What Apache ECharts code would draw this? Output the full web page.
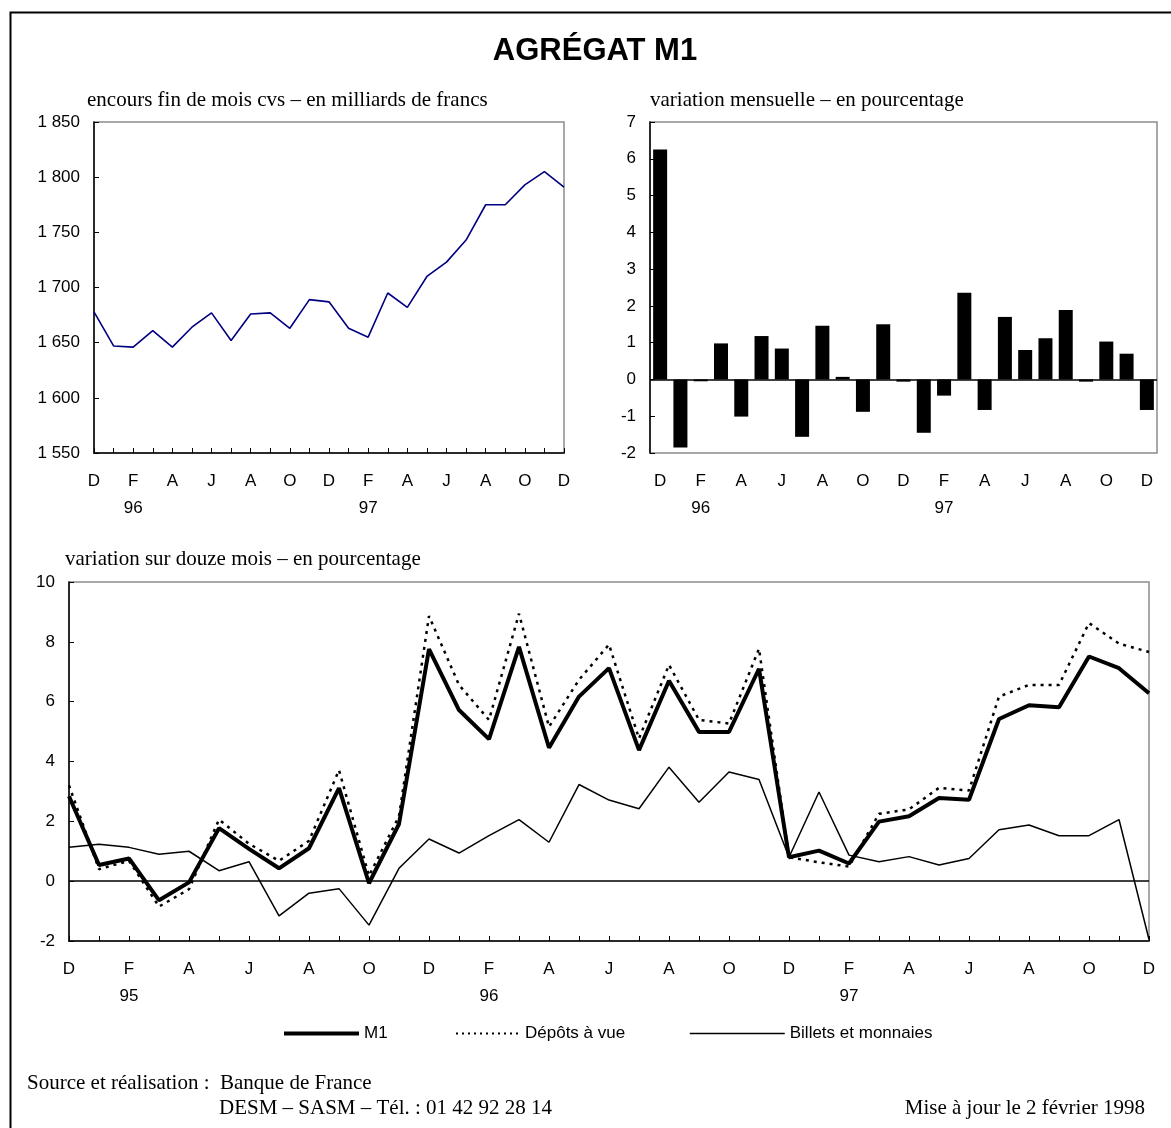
<!DOCTYPE html>
<html><head><meta charset="utf-8">
<script src="https://cdn.jsdelivr.net/npm/echarts/dist/echarts.min.js"></script>
<style>html,body{margin:0;padding:0;background:#fff}#c{width:1171px;height:1128px}</style>
</head><body><div id="c"></div><script>
// ---- data ----
const monthsTop = ['D','J','F','M','A','M','J','J','A','S','O','N','D','J','F','M','A','M','J','J','A','S','O','N','D'];
const yearsTop  = ['95','96','96','96','96','96','96','96','96','96','96','96','96','97','97','97','97','97','97','97','97','97','97','97','97'];
const encours = [1678,1647,1646,1661,1646,1664,1677,1652,1676,1677,1663,1689,1687,1663,1655,1695,1682,1710,1723,1743,1775,1775,1793,1805,1791];
const variationMensuelle = [6.25,-1.85,-0.05,0.98,-1.01,1.18,0.84,-1.56,1.46,0.07,-0.88,1.50,-0.06,-1.45,-0.44,2.36,-0.83,1.70,0.80,1.12,1.89,-0.06,1.03,0.70,-0.83];

const monthsBottom = ['D','J','F','M','A','M','J','J','A','S','O','N','D','J','F','M','A','M','J','J','A','S','O','N','D','J','F','M','A','M','J','J','A','S','O','N','D'];
const yearsBottom  = ['94','95','95','95','95','95','95','95','95','95','95','95','95','96','96','96','96','96','96','96','96','96','96','96','96','97','97','97','97','97','97','97','97','97','97','97','97'];
const m1 = [2.84,0.54,0.76,-0.64,-0.04,1.77,1.08,0.43,1.10,3.11,-0.07,1.91,7.76,5.72,4.75,7.83,4.46,6.17,7.12,4.38,6.70,4.99,4.99,7.10,0.80,1.02,0.59,1.99,2.17,2.78,2.72,5.42,5.88,5.81,7.51,7.12,6.28];
const depots = [3.20,0.40,0.68,-0.85,-0.27,2.06,1.25,0.68,1.35,3.71,0.18,2.17,8.86,6.56,5.39,8.94,5.16,6.73,7.91,4.77,7.23,5.39,5.27,7.77,0.80,0.63,0.49,2.25,2.40,3.12,3.03,6.17,6.56,6.56,8.63,7.94,7.66];
const billets = [1.13,1.23,1.13,0.90,1.00,0.35,0.65,-1.16,-0.40,-0.25,-1.47,0.43,1.41,0.94,1.52,2.06,1.30,3.23,2.71,2.42,3.81,2.64,3.65,3.40,0.80,2.98,0.87,0.65,0.82,0.54,0.76,1.72,1.88,1.52,1.52,2.06,-1.95];

const catTop = monthsTop.map((m,i)=>m+' '+yearsTop[i]);
const catBottom = monthsBottom.map((m,i)=>m+' '+yearsBottom[i]);

// ---- styles ----
const SANS = 'Liberation Sans, Arial, sans-serif';
const SERIF = 'Liberation Serif, Times New Roman, serif';
const FRAME = '#8c8c8c';
const xFmt = v => { const p = v.split(' '); return p[0]==='F' ? p[0]+'\n'+p[1] : p[0]; };
const thousand = v => String(v).replace(/\B(?=(\d{3})+(?!\d))/g,' ');

const xLabel = {interval:1, formatter:xFmt, fontFamily:SANS, fontSize:17, color:'#000', margin:15, lineHeight:27, verticalAlign:'top'};
const yLabel = extra => Object.assign({fontFamily:SANS, fontSize:17, color:'#000', margin:14}, extra||{});
const blackAxis = {show:true, onZero:false, lineStyle:{color:'#000', width:1.5}};
const tickIn = {show:true, inside:true, length:5, lineStyle:{color:'#000', width:1}};
const zeroLine = {silent:true, symbol:'none', label:{show:false}, lineStyle:{color:'#000', width:1.5, type:'solid'}, data:[{yAxis:0}]};

const subStyle = {fontFamily:SERIF, fontSize:21, fontWeight:'normal', color:'#000'};
const legText = {fontFamily:SANS, fontSize:17, color:'#000'};
const legItem = {color:'rgba(0,0,0,0)', borderWidth:0, borderColor:'rgba(0,0,0,0)'};

const option = {
  animation:false,
  backgroundColor:'#fff',
  title:[
    {text:'AGRÉGAT M1', left:595, top:36, textAlign:'center', padding:0, textStyle:{fontFamily:SANS, fontSize:31, fontWeight:'bold', color:'#000'}},
    {text:'encours fin de mois cvs – en milliards de francs', left:87, top:90, padding:0, textStyle:subStyle},
    {text:'variation mensuelle – en pourcentage', left:650, top:90, padding:0, textStyle:subStyle},
    {text:'variation sur douze mois – en pourcentage', left:65, top:549, padding:0, textStyle:subStyle},
    {text:'Source et réalisation :  Banque de France', left:27, top:1073, padding:0, textStyle:subStyle},
    {text:'DESM – SASM – Tél. : 01 42 92 28 14', left:219, top:1098, padding:0, textStyle:subStyle},
    {text:'Mise à jour le 2 février 1998', right:26, top:1098, padding:0, textStyle:subStyle}
  ],
  legend:[
    {data:['M1'], left:282, top:1025, itemWidth:75, itemHeight:14, itemGap:0, padding:0, textStyle:legText, itemStyle:legItem, lineStyle:{width:4, color:'#000', type:'solid'}},
    {data:['Dépôts à vue'], left:455, top:1025, itemWidth:64, itemHeight:14, itemGap:0, padding:0, textStyle:legText, itemStyle:legItem, lineStyle:{width:2, color:'#000', type:[2,4]}},
    {data:['Billets et monnaies'], left:689, top:1025, itemWidth:95, itemHeight:14, itemGap:0, padding:0, textStyle:legText, itemStyle:legItem, lineStyle:{width:1.5, color:'#000', type:'solid'}}
  ],
  grid:[
    {left:94, top:122, width:470, height:331, show:true, borderColor:FRAME, borderWidth:1.5, backgroundColor:'#fff'},
    {left:650, top:122, width:507, height:331, show:true, borderColor:FRAME, borderWidth:1.5, backgroundColor:'#fff'},
    {left:69, top:582, width:1080, height:359, show:true, borderColor:FRAME, borderWidth:1.5, backgroundColor:'#fff'}
  ],
  xAxis:[
    {gridIndex:0, type:'category', data:catTop, boundaryGap:false, axisLine:blackAxis, axisTick:Object.assign({interval:0}, tickIn), axisLabel:xLabel, splitLine:{show:false}},
    {gridIndex:1, type:'category', data:catTop, boundaryGap:true, axisLine:{show:false, onZero:false}, axisTick:{show:false}, axisLabel:xLabel, splitLine:{show:false}},
    {gridIndex:2, type:'category', data:catBottom, boundaryGap:false, axisLine:blackAxis, axisTick:Object.assign({interval:0}, tickIn), axisLabel:xLabel, splitLine:{show:false}}
  ],
  yAxis:[
    {gridIndex:0, type:'value', min:1550, max:1850, interval:50, axisLine:blackAxis, axisTick:tickIn, axisLabel:yLabel({formatter:thousand}), splitLine:{show:false}},
    {gridIndex:1, type:'value', min:-2, max:7, interval:1, axisLine:blackAxis, axisTick:tickIn, axisLabel:yLabel(), splitLine:{show:false}},
    {gridIndex:2, type:'value', min:-2, max:10, interval:2, axisLine:blackAxis, axisTick:tickIn, axisLabel:yLabel(), splitLine:{show:false}}
  ],
  series:[
    {name:'encours', type:'line', xAxisIndex:0, yAxisIndex:0, data:encours, symbol:'none', lineStyle:{color:'#000080', width:1.6}, itemStyle:{color:'#000080'}},
    {name:'variation mensuelle', type:'bar', xAxisIndex:1, yAxisIndex:1, data:variationMensuelle, barWidth:14, itemStyle:{color:'#000'}, markLine:zeroLine},
    {name:'Dépôts à vue', type:'line', xAxisIndex:2, yAxisIndex:2, data:depots, symbol:'none', lineStyle:{color:'#000', width:2.5, type:[3,5]}, itemStyle:{color:'#000'}, z:2, markLine:zeroLine},
    {name:'Billets et monnaies', type:'line', xAxisIndex:2, yAxisIndex:2, data:billets, symbol:'none', lineStyle:{color:'#000', width:1.5}, itemStyle:{color:'#000'}, z:3},
    {name:'M1', type:'line', xAxisIndex:2, yAxisIndex:2, data:m1, symbol:'none', lineStyle:{color:'#000', width:4}, itemStyle:{color:'#000'}, z:4}
  ],
  graphic:[
    {type:'rect', shape:{x:10.5, y:12.5, width:1300, height:1300}, style:{fill:null, stroke:'#000', lineWidth:2}, silent:true, z:-1}
  ]
};
const chart = echarts.init(document.getElementById('c'), null, {renderer:'canvas'});
chart.setOption(option);
</script></body></html>
